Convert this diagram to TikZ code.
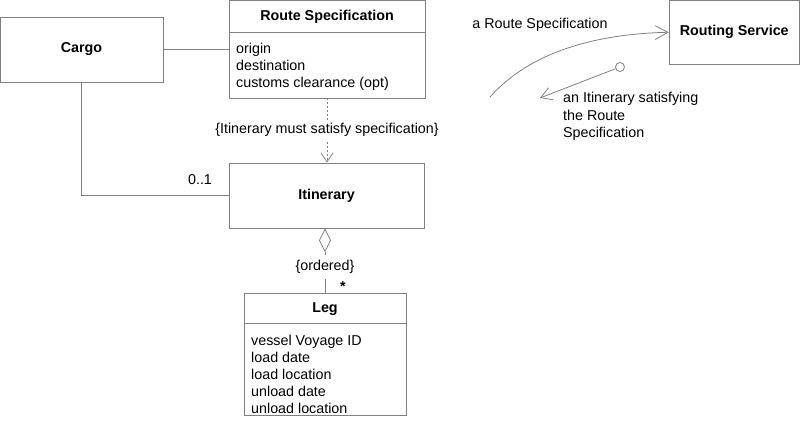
\documentclass[tikz,border=0pt]{standalone}
\usepackage{fontspec}
\setmainfont{Liberation Sans}
\usetikzlibrary{arrows.meta,calc}
\definecolor{umlgray}{RGB}{128,128,128}

\begin{document}
\begin{tikzpicture}[x=1pt,y=-1pt,font=\fontsize{14.3}{17}\selectfont,
  line/.style={draw=umlgray,line width=0.8pt},
  box/.style={line,inner sep=0,font=\fontsize{14.3}{17}\selectfont\bfseries},
  attr/.style={anchor=base west,align=left,inner sep=0},
  open tip/.style={-{Straight Barb[length=9pt,width=12pt]}}]
\useasboundingbox (0,0) rectangle (800,425);

% classes
\node[box,minimum width=163,minimum height=65] (cargo) at (81.5,49.5) {Cargo};
\node[box,minimum width=196,minimum height=97.5] (rspec) at (327,49.25) {};
\node[box,draw=none] (rspecname) at (327,17) {Route Specification};
\draw[line] ($(rspec.north west)+(0,32.5)$) -- ($(rspec.north east)+(0,32.5)$);
\node[attr] (rspecattr) at (236,88) {origin\\destination\\customs clearance (opt)};

\node[box,minimum width=195,minimum height=65] (itin) at (326.5,195.5) {Itinerary};

\node[box,minimum width=162,minimum height=122] (leg) at (325,354) {};
\node[box,draw=none] (legname) at (325,309) {Leg};
\draw[line] ($(leg.north west)+(0,31)$) -- ($(leg.north east)+(0,31)$);
\node[attr] (legattr) at (251,413) {vessel Voyage ID\\load date\\load location\\unload date\\unload location};

\node[box,minimum width=130,minimum height=63.5] (rsvc) at (734.25,32.25) {Routing Service};

% associations
\draw[line] (cargo.east) -- (cargo.east -| rspec.west);
\draw[line] (cargo.south) |- (itin.west);
\node (mult) at (200,180) {0..1};
\draw[line,dash pattern=on 2pt off 2pt,open tip] (rspec.south) --
  node[fill=white,inner sep=3pt,pos=0.49] (constraint) {\{Itinerary must satisfy specification\}} (rspec.south |- itin.north);
\draw[line,{Diamond[open,length=24pt,width=12pt]}-] (itin.south -| leg.north) --
  node[fill=white,inner xsep=2pt,inner ysep=5pt,pos=0.6] (ordered) {\{ordered\}} (leg.north);
\node[font=\fontsize{14.3}{17}\selectfont\bfseries] (many) at (343,287) {*};

% service call
\coordinate (reqstart) at (490,97);
\draw[line,-{Straight Barb[length=13pt,width=14pt]}] (reqstart) .. controls (530,52) and (595,34) .. (rsvc.west);
\node (reqlabel) at (540,25) {a Route Specification};
\node[circle,draw=umlgray,line width=0.8pt,fill=white,inner sep=0,minimum size=9pt] (retstart) at (620,67) {};
\coordinate (retend) at (540,98);
\draw[line,-{Straight Barb[length=11pt,width=13pt]}] (retstart) -- (retend);
\node[attr] (retlabel) at (563,137) {an Itinerary satisfying\\the Route\\Specification};
\end{tikzpicture}
\end{document}
